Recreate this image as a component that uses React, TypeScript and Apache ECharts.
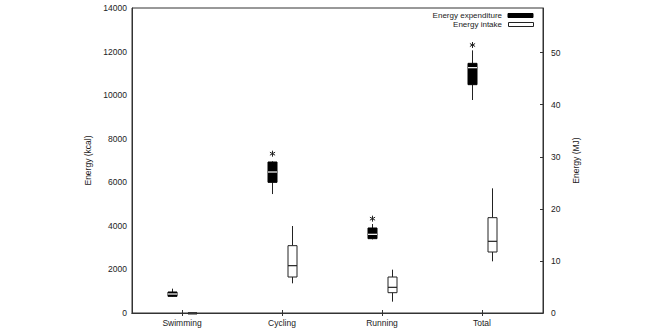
import React, { useEffect, useRef } from "react";
import * as echarts from "echarts";

const categories = ["Swimming", "Cycling", "Running", "Total"];
// [x position, min, Q1, median, Q3, max] in kcal
const expenditure = [
  [0.9, 750, 765, 872, 964, 1117],
  [1.9, 5460, 5998, 6472, 6931, 6960],
  [2.9, 3380, 3412, 3611, 3902, 4085],
  [3.9, 9777, 10481, 11261, 11460, 12056],
];
const intake = [
  [1.1, 0, 0, 0, 0, 0],
  [2.1, 1362, 1652, 2173, 3091, 3993],
  [3.1, 520, 933, 1178, 1652, 1989],
  [4.1, 2372, 2800, 3290, 4376, 5722],
];
const outliers = [
  [1.9, 7313],
  [2.9, 4330],
  [3.9, 12301],
];
const leftTicks = { min: 0, max: 14000, interval: 2000 };
const kcalToMJ = 4.184 / 1000;

const FONT = "Liberation Sans";
const AXIS = "#333";

function boxRenderer(filled: boolean) {
  return (params: any, api: any) => {
    const x = api.value(0);
    const pMin = api.coord([x, api.value(1)]);
    const pQ1 = api.coord([x, api.value(2)]);
    const pMed = api.coord([x, api.value(3)]);
    const pQ3 = api.coord([x, api.value(4)]);
    const pMax = api.coord([x, api.value(5)]);
    const w = 9;
    const cx = Math.round(pMed[0]) + 0.5;
    return {
      type: "group",
      children: [
        {
          type: "line",
          shape: { x1: cx, y1: pMax[1], x2: cx, y2: pQ3[1] },
          style: { stroke: "#222", lineWidth: 1 },
        },
        {
          type: "line",
          shape: { x1: cx, y1: pQ1[1], x2: cx, y2: pMin[1] },
          style: { stroke: "#222", lineWidth: 1 },
        },
        {
          type: "rect",
          shape: {
            x: cx - w / 2,
            y: pQ3[1],
            width: w,
            height: Math.max(pQ1[1] - pQ3[1], 1),
          },
          style: {
            fill: filled ? "#000" : "#fff",
            stroke: filled ? "#000" : "#222",
            lineWidth: 1,
          },
        },
        {
          type: "line",
          shape: { x1: cx - w / 2, y1: pMed[1], x2: cx + w / 2, y2: pMed[1] },
          style: { stroke: filled ? "#fff" : "#222", lineWidth: 1.2 },
        },
      ],
    };
  };
}

function starRenderer(params: any, api: any) {
  const p = api.coord([api.value(0), api.value(1)]);
  const cx = Math.round(p[0]) + 0.5;
  const cy = p[1];
  const r = 3;
  const lines = [0, 60, 120].map((deg) => {
    const a = (deg * Math.PI) / 180;
    const dx = Math.sin(a) * r;
    const dy = Math.cos(a) * r;
    return {
      type: "line",
      shape: { x1: cx - dx, y1: cy - dy, x2: cx + dx, y2: cy + dy },
      style: { stroke: "#222", lineWidth: 1 },
    };
  });
  return { type: "group", children: lines };
}

export default function App() {
  const ref = useRef<HTMLDivElement>(null);
  useEffect(() => {
    document.body.style.margin = "0";
    const chart = echarts.init(ref.current!, null, { renderer: "svg" });
    const xCommon = {
      type: "value",
      min: 0.5,
      max: 4.61,
      splitLine: { show: false },
      axisLine: { show: true, lineStyle: { color: AXIS, width: 1 } },
    };
    chart.setOption({
      animation: false,
      textStyle: { fontFamily: FONT },
      grid: {
        left: 132,
        right: 117,
        top: 8,
        bottom: 17,
        show: true,
        borderColor: AXIS,
        borderWidth: 1,
        backgroundColor: "transparent",
      },
      xAxis: [
        {
          ...xCommon,
          position: "bottom",
          axisTick: {
            show: true,
            inside: true,
            length: 3,
            customValues: [1, 2, 3, 4],
            lineStyle: { color: AXIS },
          },
          axisLabel: {
            customValues: [1, 2, 3, 4],
            formatter: (v: number) => categories[Math.round(v) - 1] ?? "",
            fontSize: 8.5,
            color: "#222",
            margin: 5,
            fontFamily: FONT,
          },
        },
        {
          ...xCommon,
          position: "top",
          axisTick: {
            show: true,
            inside: true,
            length: 3,
            customValues: [1, 2, 3, 4],
            lineStyle: { color: AXIS },
          },
          axisLabel: { show: false },
        },
      ],
      yAxis: [
        {
          type: "value",
          position: "left",
          min: leftTicks.min,
          max: leftTicks.max,
          interval: leftTicks.interval,
          splitLine: { show: false },
          axisLine: { show: true, lineStyle: { color: AXIS, width: 1 } },
          axisTick: { show: false },
          axisLabel: {
            fontSize: 8.5,
            color: "#222",
            margin: 5,
            fontFamily: FONT,
            formatter: (v: number) => String(v),
          },
          name: "Energy (kcal)",
          nameLocation: "middle",
          nameRotate: 90,
          nameGap: 37,
          nameTextStyle: { fontSize: 8.5, color: "#222", fontFamily: FONT },
        },
        {
          type: "value",
          position: "right",
          min: 0,
          max: leftTicks.max * kcalToMJ,
          interval: 10,
          splitLine: { show: false },
          axisLine: { show: true, lineStyle: { color: AXIS, width: 1 } },
          axisTick: { show: true, inside: true, length: 3, lineStyle: { color: AXIS } },
          axisLabel: {
            fontSize: 8.5,
            color: "#222",
            margin: 8,
            fontFamily: FONT,
            showMaxLabel: false,
            formatter: (v: number) => (v % 10 === 0 ? String(v) : ""),
          },
          name: "Energy (MJ)",
          nameLocation: "middle",
          nameRotate: 90,
          nameGap: 23,
          nameTextStyle: { fontSize: 8.5, color: "#222", fontFamily: FONT },
        },
      ],
      graphic: [
        {
          type: "text",
          right: 158,
          top: 11,
          style: {
            text: "Energy expenditure",
            font: `8px "${FONT}"`,
            lineHeight: 8,
            fill: "#222",
          },
        },
        {
          type: "text",
          right: 158,
          top: 20.5,
          style: {
            text: "Energy intake",
            font: `8px "${FONT}"`,
            lineHeight: 8,
            fill: "#222",
          },
        },
        {
          type: "rect",
          shape: { x: 508, y: 13.5, width: 25, height: 4 },
          style: { fill: "#000", stroke: "#000", lineWidth: 1 },
        },
        {
          type: "rect",
          shape: { x: 508.5, y: 22.5, width: 25, height: 4 },
          style: { fill: "#fff", stroke: "#222", lineWidth: 1 },
        },
      ],
      series: [
        {
          name: "Energy expenditure",
          type: "custom",
          xAxisIndex: 0,
          yAxisIndex: 0,
          data: expenditure,
          encode: { x: 0, y: [1, 2, 3, 4, 5] },
          renderItem: boxRenderer(true),
        },
        {
          name: "Energy intake",
          type: "custom",
          xAxisIndex: 0,
          yAxisIndex: 0,
          data: intake,
          encode: { x: 0, y: [1, 2, 3, 4, 5] },
          renderItem: boxRenderer(false),
        },
        {
          name: "Significance",
          type: "custom",
          xAxisIndex: 0,
          yAxisIndex: 0,
          data: outliers,
          encode: { x: 0, y: 1 },
          renderItem: starRenderer,
        },
      ],
    });
    return () => chart.dispose();
  }, []);
  return <div ref={ref} style={{ width: 660, height: 330 }} />;
}
